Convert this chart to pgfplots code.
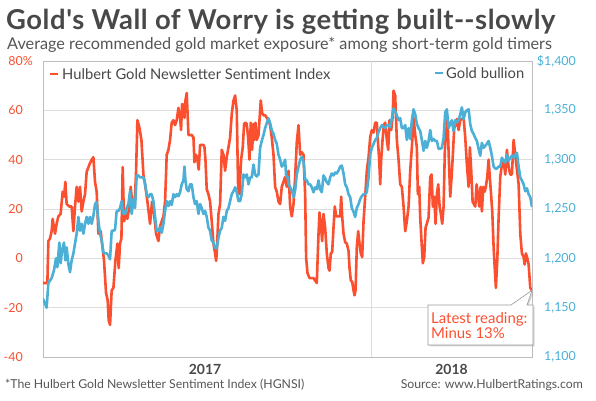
\documentclass[border=0pt]{standalone}
\usepackage{fontspec}
\setmainfont{Lato}
\usepackage{pgfplots}
\pgfplotsset{compat=1.18}
\usetikzlibrary{shadows}
\definecolor{hred}{HTML}{FA5030}
\definecolor{hblue}{HTML}{4BAFD6}
\definecolor{tgray}{HTML}{484848}
\definecolor{sgray}{HTML}{555555}
\definecolor{gridc}{HTML}{DDDDDD}
\definecolor{framec}{HTML}{BDBDBD}
\newfontfamily\titlefont[LetterSpace=2]{Lato}
\begin{document}
\begin{tikzpicture}
\useasboundingbox (0,0) rectangle (596bp,401bp);
\node[anchor=base west, inner sep=0, text=tgray, font=\titlefont\fontsize{27.5}{30}\selectfont\bfseries] at (6bp,371bp) {Gold's Wall of Worry is getting built-\kern0pt-slowly};
\node[anchor=base west, inner sep=0, text=sgray, font=\fontsize{16.3}{18}\selectfont] at (7bp,351bp) {Average recommended gold market exposure* among short-term gold timers};

\begin{axis}[
  at={(43bp,44bp)}, anchor=south west, scale only axis,
  width=489bp, height=296bp,
  xmin=4.4, xmax=542, ymin=-40, ymax=80,
  axis line style={framec, line width=0.8bp},
  ytick={-40,-20,0,20,40,60,80},
  yticklabels={-40,-20,0,20,40,60,80\rlap{\%}},
  yticklabel style={anchor=east, inner sep=0pt, xshift=-20bp, text=hred, font=\fontsize{12.5}{14}\selectfont},
  ymajorgrids, major grid style={gridc, line width=0.8bp},
  xtick={182.5,453.5}, xticklabels={2017,2018},
  xticklabel style={anchor=north, inner sep=0pt, yshift=-7bp, text=tgray, font=\fontsize{14}{16}\selectfont\bfseries},
  major tick length=0pt,
  extra x ticks={365}, extra x tick labels={},
  extra x tick style={xmajorgrids=true, major grid style={gridc, line width=0.8bp}},
]
\addplot[hred, line width=2.6bp, line join=round, mark=none] coordinates {
(4.4,-10) (9.2,-10) (10.3,7) (12.1,8) (13.9,11) (15.0,16) (17.6,10) (19.4,14) (21.3,17) (23.8,18) (26.0,27) (27.5,25) (29.0,31) (30.4,22) (33.4,21) (35.9,21) (37.8,11) (39.6,21) (41.4,29) (43.3,23) (45.1,29) (46.9,19) (48.8,23) (50.6,26) (52.4,35) (55.4,38) (57.9,40) (59.8,41) (61.6,31) (63.4,27) (65.3,10) (67.8,11) (70.0,4) (71.5,-1) (73.7,-14) (75.5,-17) (76.6,-25) (78.1,-27) (79.9,-13) (81.8,-12) (84.0,-1) (86.2,6) (87.6,-4) (89.1,6) (90.6,8) (92.0,37) (93.5,15) (95.7,18) (97.2,16) (99.4,21) (100.8,29) (103.0,21) (105.3,23) (106.7,35) (108.2,56) (110.4,53) (112.6,48) (114.8,34) (117.0,29) (119.2,23) (122.1,14) (124.3,23) (126.5,18) (128.7,10) (131.3,7) (133.1,13) (134.9,15) (136.8,17) (138.6,23) (140.4,42) (142.3,44) (144.1,48) (145.9,55) (147.8,56) (149.6,54) (151.4,56) (153.3,61) (155.1,57) (156.2,52) (157.3,62.5) (158.8,62) (159.9,57) (161.0,64) (162.4,67) (164.3,50) (166.1,50) (167.9,50) (169.8,49) (170.9,39) (172.7,42) (174.2,40) (175.6,36) (177.1,46) (178.9,46) (180.8,46) (181.9,45) (183.0,40) (184.4,28) (186.3,26) (188.1,23) (189.9,15) (191.8,6) (193.6,2) (194.7,-1) (195.4,2) (197.3,18) (199.1,22) (200.9,44) (202.8,42) (204.6,35.5) (206.4,41) (208.3,45) (210.1,49) (211.9,58.5) (213.8,64) (215.6,66) (217.4,60) (218.9,29) (220.4,26) (222.2,40) (224.0,45) (225.5,54.5) (227.0,55) (228.4,54.5) (229.9,49) (231.4,40) (232.8,55) (234.3,44) (235.8,54.5) (236.9,48) (238.0,55) (239.4,48) (241.3,50) (242.4,56) (243.8,64) (245.3,59) (246.8,58) (248.6,58) (250.4,57) (252.3,56) (254.1,54) (255.9,49) (257.8,42) (259.6,29) (261.4,27) (263.3,23) (265.1,22) (266.9,29) (268.8,31) (270.6,33) (272.4,29) (274.3,35.5) (276.1,21) (277.9,17) (279.8,22) (281.6,33) (283.4,47) (285.3,54) (287.1,42) (288.9,43) (290.8,42) (292.6,26) (293.7,0) (295.2,-6) (297.4,-8) (299.9,-8) (301.8,-8) (303.6,-9) (305.4,-10) (307.3,10) (308.4,18.6) (309.8,14) (311.3,7) (312.8,18) (314.6,12.5) (316.4,2) (318.3,-4) (319.4,-5) (320.8,2) (322.3,2.5) (323.8,12.5) (325.2,21) (326.7,17) (328.2,17) (329.6,17) (331.1,17) (332.2,25) (333.3,17) (334.8,10) (336.6,6.5) (338.4,6) (340.3,3) (341.4,-4) (342.8,-9) (344.3,-9.5) (345.8,-13) (346.9,-15) (348.0,-13) (349.4,4.5) (350.9,11) (352.4,6) (353.8,2) (355.3,0.5) (356.8,15) (358.6,25) (360.4,35.5) (362.3,41) (364.1,49) (365.9,52) (367.8,51) (369.6,55) (371.4,55) (372.5,48) (374.0,40) (375.1,30) (376.2,40) (377.7,48) (379.1,54) (380.6,55) (382.4,48) (383.9,44) (385.4,56) (387.2,52) (388.7,57) (389.8,68) (391.6,66) (393.4,48) (395.3,40) (397.1,30) (398.9,29) (400.8,21) (402.6,11) (404.4,15) (406.3,21) (408.1,35.5) (409.9,45) (411.8,57) (413.6,50) (415.4,45) (416.5,26) (418.0,29) (419.1,16.6) (420.9,4.5) (422.0,-2) (423.5,0.5) (425.0,12.5) (426.4,14) (428.3,16.6) (430.1,33) (431.6,34) (433.0,21) (434.5,25) (436.0,14) (437.4,26) (438.9,30) (440.4,21) (441.8,18) (443.3,14) (444.8,21) (446.2,44) (447.7,52) (449.2,56) (450.6,40) (452.1,25) (453.6,33) (455.0,42) (456.5,53) (458.0,54) (459.4,56.5) (461.3,52) (463.1,56) (464.9,56.5) (466.8,57) (468.6,49) (470.4,38) (472.3,29) (473.7,45) (475.2,35.5) (476.7,23) (478.1,22) (479.6,21) (481.1,30) (482.5,26) (484.0,21) (485.5,29) (486.9,19) (488.4,29) (489.9,27) (491.3,29) (492.8,33) (494.3,40) (495.4,34) (496.8,27) (498.3,19) (499.8,4.5) (500.9,-3) (502.3,-12) (503.8,-1) (505.3,16.6) (507.1,33) (508.9,38) (510.8,39.5) (512.6,34) (514.4,44) (516.3,37) (518.1,34) (519.9,34) (521.8,48) (523.6,42) (525.4,36) (527.3,30) (529.1,10) (530.9,2) (532.8,0.5) (533.9,-2.5) (535.3,2) (536.8,0) (538.3,-2.5) (540.1,-12) (542,-13)
};
\coordinate (last) at (axis cs:542,-13);
\end{axis}

\begin{axis}[
  at={(43bp,44bp)}, anchor=south west, scale only axis,
  width=489bp, height=296bp,
  xmin=4.4, xmax=542, ymin=1100, ymax=1400,
  axis y line*=right, axis x line=none,
  axis line style={framec, line width=0.8bp},
  ytick={1100,1150,1200,1250,1300,1350,1400},
  yticklabels={{1,100},{1,150},{1,200},{1,250},{1,300},{1,350},{\llap{\$}1,400}},
  yticklabel style={anchor=west, inner sep=0pt, xshift=12bp, text=hblue, font=\fontsize{12.5}{14}\selectfont},
  major tick length=0pt,
]
\addplot[hblue, line width=2.6bp, line join=round, mark=none] coordinates {
(4.4,1159) (8.4,1150) (10.3,1175) (13.9,1180) (16.5,1188) (18.7,1200) (20.2,1191) (22.4,1216) (23.8,1195) (25.3,1208) (27.5,1216) (29.0,1198) (30.4,1211) (32.3,1194) (34.1,1186) (35.9,1198) (37.8,1205) (39.6,1215) (41.4,1225) (43.3,1242) (45.1,1228) (46.9,1235) (48.8,1225) (50.6,1235) (52.4,1242) (54.3,1235) (56.1,1242) (57.9,1235) (59.8,1243) (61.6,1255) (63.4,1257) (65.3,1238) (67.1,1225) (68.9,1218) (70.8,1206) (72.6,1205) (74.4,1205) (76.3,1203) (78.1,1199) (79.9,1228) (81.8,1228) (83.6,1229) (85.4,1248) (87.3,1248) (89.1,1251) (90.9,1258) (92.8,1245) (94.6,1245) (96.4,1251) (98.3,1255) (100.1,1268) (101.9,1245) (103.8,1260) (105.6,1251) (107.4,1284) (109.3,1284) (111.1,1282) (112.9,1282) (114.8,1282) (116.6,1276) (118.4,1265) (120.3,1262) (122.1,1265) (123.9,1265) (125.8,1258) (127.6,1242) (129.4,1228) (131.3,1228) (133.1,1231) (134.9,1226) (136.8,1235) (138.6,1248) (140.4,1258) (142.3,1253) (144.1,1258) (145.9,1254) (147.8,1265) (149.6,1262) (151.4,1265) (153.3,1263) (155.1,1267) (156.9,1275) (158.8,1279) (159.9,1293) (161.0,1279) (162.4,1270) (164.3,1268) (166.1,1275) (167.9,1275) (169.8,1262) (171.6,1255) (173.4,1258) (175.3,1245) (177.1,1255) (178.9,1251) (180.8,1245) (182.6,1248) (184.4,1242) (186.3,1231) (188.1,1228) (189.9,1218) (191.8,1216) (193.6,1211) (195.4,1210) (197.3,1221) (199.1,1228) (200.9,1231) (202.8,1242) (204.6,1238) (206.4,1248) (208.3,1251) (210.1,1258) (211.9,1265) (213.8,1268) (215.6,1272) (217.4,1267) (219.3,1258) (221.1,1258) (222.9,1265) (224.8,1285) (226.6,1282) (228.4,1285) (230.3,1275) (232.1,1282) (233.9,1282) (235.8,1295) (237.6,1285) (239.4,1283) (241.3,1285) (243.1,1312) (244.9,1319) (246.8,1325) (248.6,1332) (250.4,1337) (252.3,1342) (254.1,1337) (255.9,1330) (257.8,1326) (259.6,1320) (261.4,1316) (263.3,1305) (265.1,1300) (266.9,1293) (268.8,1295) (270.6,1300) (271.7,1283) (273.2,1283) (274.6,1275) (276.1,1272) (277.9,1269) (279.8,1262) (281.6,1269) (283.4,1285) (285.3,1293) (287.1,1300) (288.9,1303) (290.8,1298) (292.6,1280) (294.4,1279) (296.3,1275) (298.1,1275) (299.9,1272) (301.8,1267) (303.6,1272) (305.4,1270) (307.3,1279) (309.1,1270) (310.9,1267) (312.8,1284) (314.6,1281) (316.4,1277) (318.3,1275) (320.1,1282) (321.9,1286) (323.8,1284) (325.6,1287) (327.4,1286) (329.3,1289) (331.1,1293) (332.9,1294) (334.8,1286) (336.6,1275) (338.4,1272) (340.3,1265) (342.1,1262) (343.9,1251) (345.8,1247) (347.6,1242) (349.4,1251) (351.3,1255) (353.1,1260) (354.9,1263) (356.8,1265) (358.6,1265) (360.4,1267) (362.3,1282) (364.1,1305) (365.9,1312) (367.8,1316) (369.6,1320) (371.4,1322) (373.3,1328) (375.1,1332) (376.9,1335) (378.8,1333) (380.6,1332) (382.4,1335) (384.3,1335) (386.1,1333) (387.9,1342) (389.8,1352) (391.6,1349) (393.4,1345) (395.3,1340) (397.1,1342) (398.9,1332) (400.8,1332) (402.6,1335) (404.4,1320) (406.3,1332) (408.1,1321) (409.9,1340) (411.8,1351) (413.6,1346) (415.4,1336) (417.3,1332) (419.1,1329) (420.9,1320) (422.8,1309) (424.6,1319) (426.4,1312) (428.3,1319) (430.1,1330) (431.9,1319) (433.8,1321) (435.6,1319) (437.4,1319) (439.3,1311) (441.1,1311) (442.9,1312) (444.8,1322) (446.6,1348) (448.4,1351) (450.3,1332) (452.1,1336) (453.9,1340) (455.8,1329) (457.6,1340) (459.4,1338) (461.3,1340) (463.1,1346) (464.9,1353) (466.8,1341) (468.6,1348) (470.4,1350) (472.3,1351) (474.1,1336) (475.9,1329) (477.8,1326) (479.6,1322) (481.4,1319) (483.3,1311) (485.1,1304) (486.9,1317) (488.8,1312) (490.6,1314) (492.4,1316) (494.3,1319) (496.1,1312) (497.9,1304) (499.8,1293) (501.6,1291) (503.4,1291) (505.3,1293) (507.1,1293) (508.9,1302) (510.8,1299) (512.6,1297) (514.4,1305) (516.3,1299) (518.1,1302) (519.9,1304) (521.8,1302) (523.6,1305) (525.4,1307) (527.3,1293) (529.1,1282) (530.9,1279) (532.8,1275) (534.6,1268) (536.4,1271) (538.3,1265) (540.1,1262) (542,1252)
};
\end{axis}

% legend
\draw[hred, line width=2.5bp] (50bp,327bp) -- (58bp,327bp);
\node[anchor=west, inner sep=0, text=tgray, font=\fontsize{14.8}{17}\selectfont] at (62bp,327bp) {Hulbert Gold Newsletter Sentiment Index};
\draw[hblue, line width=2.5bp] (435bp,328bp) -- (443bp,328bp);
\node[anchor=west, inner sep=0, text=tgray, font=\fontsize{14.8}{17}\selectfont] at (446bp,328bp) {Gold bullion};

% callout
\filldraw[fill=white, draw=black!40, line width=0.6bp, line join=miter,
  drop shadow={shadow xshift=1.5bp, shadow yshift=-1.5bp, opacity=0.3}]
  (428bp,56bp) -- (428bp,96bp) -- (511bp,96bp) -- (last) -- (527bp,96bp) -- (533bp,96bp) -- (533bp,56bp) -- cycle;
\node[anchor=base west, inner sep=0, text=hred, font=\fontsize{15}{17}\selectfont] at (431bp,77.5bp) {Latest reading:};
\node[anchor=base west, inner sep=0, text=hred, font=\fontsize{15}{17}\selectfont] at (431bp,62.5bp) {Minus 13\%};

% footer
\node[anchor=base west, inner sep=0, text=sgray, font=\fontsize{12.3}{14}\selectfont] at (5bp,13bp) {*The Hulbert Gold Newsletter Sentiment Index (HGNSI)};
\node[anchor=base east, inner sep=0, text=sgray, font=\fontsize{12.3}{14}\selectfont] at (583bp,13bp) {Source: www.HulbertRatings.com};
\end{tikzpicture}
\end{document}
